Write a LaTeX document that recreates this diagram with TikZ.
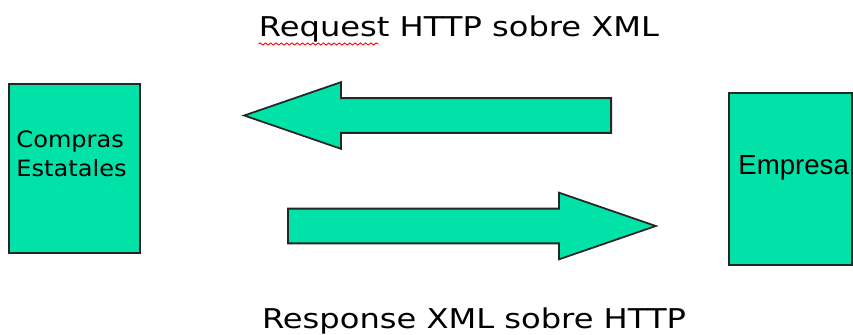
\documentclass[tikz,border=0pt]{standalone}
\usepackage{fontspec}
\setmainfont{DejaVu Sans}
\newfontfamily\titlefont[FakeStretch=1.18]{DejaVu Sans}
\newfontfamily\boxfont[FakeStretch=1.07]{DejaVu Sans}
\newfontfamily\empfont{Liberation Sans}
\usetikzlibrary{shapes.arrows, positioning, calc, decorations.pathmorphing}
\definecolor{mint}{RGB}{0,226,168}
\tikzset{
    box_mint/.style={
        rectangle, draw=black!85, line width=1pt, fill=mint, inner sep=0pt
    },
    fat_arrow/.style={
        single arrow, draw=black!85, line width=1pt, fill=mint, inner sep=0pt,
        text height=0.66cm, text depth=0pt,
        single arrow head extend=0.32cm, single arrow tip angle=38,
        minimum width=1.3cm
    },
    lbl_title/.style={
        font=\titlefont\fontsize{15.5}{18}\selectfont, inner sep=0pt, anchor=base
    },
    lbl_box/.style={
        font=\boxfont\fontsize{12.8}{16.5}\selectfont, align=left, inner sep=0pt
    },
    spell_mark/.style={
        red, line width=0.5pt, decorate,
        decoration={snake, amplitude=0.6pt, segment length=3pt}
    }
}

\begin{document}
\begin{tikzpicture}[x=0.02cm, y=-0.02cm]
    \useasboundingbox (0,0) rectangle (853,335);

    % Boxes
    \node[box_mint, minimum width=2.62cm, minimum height=3.38cm] (compras) at (74.5,168.5) {};
    \node[box_mint, minimum width=2.46cm, minimum height=3.44cm] (empresa) at (790.5,179) {};
    \node[lbl_box, anchor=base west] (comprasTxt) at ($(compras.north west)+(8,93)$) {Compras\\Estatales};
    \node[font=\empfont\fontsize{15.7}{18}\selectfont, inner sep=0pt, anchor=base west] (empresaTxt) at ($(empresa.north west)+(10,82)$) {Empresa};

    % Arrows
    \node[fat_arrow, shape border rotate=180, minimum height=7.34cm, anchor=tail] (req) at (612,115.5) {};
    \node[fat_arrow, minimum height=7.36cm, anchor=tail] (resp) at (287,226) {};

    % Labels
    \node[lbl_title] (reqTxt) at (459,36) {Request HTTP sobre XML};
    \node[lbl_title] (respTxt) at (474,328) {Response XML sobre HTTP};
    \draw[spell_mark] ($(reqTxt.base west)+(0,8)$) -- ++(120,0);
\end{tikzpicture}
\end{document}
